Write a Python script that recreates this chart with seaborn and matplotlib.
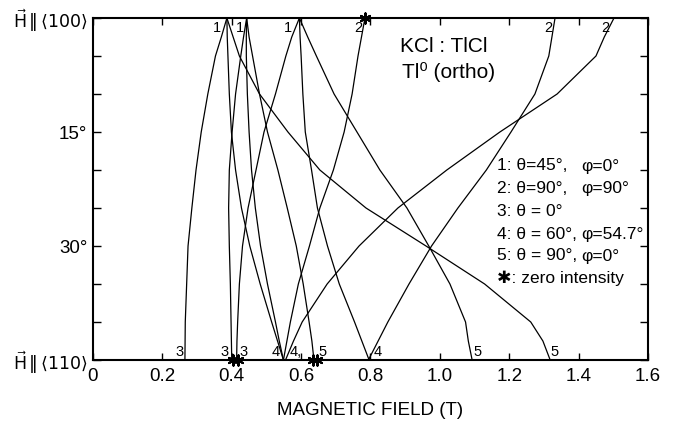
import numpy as np
import pandas as pd
import matplotlib
matplotlib.use("Agg")
import matplotlib.pyplot as plt
import seaborn as sns

# ---------------- data ----------------
ANGLES = [0, 2.5, 5, 10, 15, 20, 25, 30, 35, 40, 42.5, 45]   # degrees from <100>

c1 = [0.386, 0.370, 0.353, 0.331, 0.312, 0.297, 0.285, 0.274, 0.270, 0.266, 0.2655, 0.265]
c2 = [0.386, 0.387, 0.389, 0.393, 0.399, 0.411, 0.428, 0.452, 0.482, 0.515, 0.532, 0.549]
c3 = [0.386, 0.404, 0.422, 0.480, 0.562, 0.654, 0.787, 0.960, 1.129, 1.262, 1.297, 1.318]
c4 = [0.443, 0.434, 0.426, 0.411, 0.401, 0.393, 0.391, 0.393, 0.396, 0.398, 0.399, 0.400]
c5 = [0.443, 0.442, 0.442, 0.445, 0.450, 0.457, 0.468, 0.483, 0.503, 0.526, 0.537, 0.549]
c6 = [0.443, 0.450, 0.460, 0.480, 0.503, 0.533, 0.560, 0.586, 0.606, 0.623, 0.631, 0.637]
c7 = [0.595, 0.573, 0.556, 0.526, 0.493, 0.470, 0.447, 0.431, 0.422, 0.417, 0.415, 0.414]
c8 = [0.595, 0.597, 0.600, 0.605, 0.612, 0.630, 0.647, 0.676, 0.710, 0.754, 0.775, 0.796]
c9 = [0.595, 0.619, 0.644, 0.695, 0.761, 0.827, 0.905, 0.968, 1.029, 1.074, 1.082, 1.093]
c10 = [0.784, 0.774, 0.764, 0.747, 0.724, 0.693, 0.654, 0.624, 0.592, 0.569, 0.559, 0.549]
c11 = [1.332, 1.323, 1.314, 1.274, 1.205, 1.134, 1.052, 0.976, 0.911, 0.850, 0.822, 0.794]
c12 = [1.502, 1.474, 1.450, 1.338, 1.173, 1.020, 0.879, 0.767, 0.675, 0.603, 0.578, 0.555]

CURVES = [c1, c2, c3, c4, c5, c6, c7, c8, c9, c10, c11, c12]

# labels at the <100> end (curve index, text) and at the <110> end
TOP_LABELS = [(0, "1"), (3, "1"), (6, "1"), (9, "2"), (10, "2"), (11, "2")]
BOTTOM_LABELS = [(0, "3"), (3, "3"), (6, "3"), (1, "4"), (11, "4,"), (5, "5"),
                 (7, "4"), (8, "5"), (2, "5")]

# zero-intensity positions
STAR_FIELD = [0.784, 0.404, 0.417, 0.633, 0.645]
STAR_ANGLE = [0, 45, 45, 45, 45]

X_TICKS = [0, 0.2, 0.4, 0.6, 0.8, 1.0, 1.2, 1.4, 1.6]
X_TICKLABELS = ["0", "0.2", "0.4", "0.6", "0.8", "1.0", "1.2", "1.4", "1.6"]
Y_TICKS = [0, 15, 30, 45]
Y_TICKLABELS = [r"$\vec{\mathrm{H}}\,\Vert\,\langle100\rangle$", "15°", "30°",
                r"$\vec{\mathrm{H}}\,\Vert\,\langle110\rangle$"]

LEGEND_LEFT = ["1: θ=45°,", "2: θ=90°,", "3: θ = 0°", "4: θ = 60°,", "5: θ = 90°,", "✱: zero intensity"]
LEGEND_RIGHT = ["φ=0°", "φ=90°", "", "φ=54.7°", "φ=0°", ""]

# ---------------- style ----------------
sns.set_style("ticks")
FONTS = ["Liberation Sans", "DejaVu Sans"]
plt.rcParams["font.family"] = FONTS
plt.rcParams["mathtext.fontset"] = "dejavusans"
for k in ["text.color", "axes.labelcolor", "xtick.color", "ytick.color", "axes.edgecolor"]:
    plt.rcParams[k] = "black"

W, H = 673, 423
fig = plt.figure(figsize=(W / 100, H / 100), dpi=100)
ax = fig.add_axes([93 / W, 1 - 360 / H, (648 - 93) / W, (360 - 18) / H])

rows = []
for i, c in enumerate(CURVES):
    for a, b in zip(ANGLES, c):
        rows.append({"curve": i, "field": b, "angle": a})
df = pd.DataFrame(rows)

sns.lineplot(data=df, x="field", y="angle", units="curve", estimator=None,
             sort=False, color="black", linewidth=0.9, ax=ax, legend=False)

sns.scatterplot(x=STAR_FIELD, y=STAR_ANGLE, marker=(6, 2, 0), s=55, color="black",
                linewidth=1.5, ax=ax, clip_on=False, zorder=5)

ax.set_xlim(0, 1.6)
ax.set_ylim(45, 0)

ax.set_xticks(X_TICKS)
ax.set_xticklabels(X_TICKLABELS, fontsize=13.5)
ax.set_yticks(Y_TICKS)
ax.set_yticklabels(Y_TICKLABELS, fontsize=13.5)
for lab in ax.get_yticklabels():
    if "Vert" in lab.get_text():
        lab.set_fontsize(12.5)
ax.set_yticks([5, 10, 20, 25, 35, 40], minor=True)
ax.tick_params(axis="both", which="both", direction="in", top=True, right=True,
               width=1.0, color="black")
ax.tick_params(axis="x", which="major", length=5, pad=6)
ax.tick_params(axis="y", which="major", length=6, pad=4)
ax.tick_params(axis="y", which="minor", length=6)
for s in ax.spines.values():
    s.set_linewidth(1.5)
    s.set_color("black")

ax.set_xlabel("MAGNETIC FIELD (T)", fontsize=13.5, labelpad=12)
ax.set_ylabel("")

# curve labels
top_off = {0: -4, 3: -2, 6: -5, 9: -2, 10: -2, 11: -3}
for idx, t in TOP_LABELS:
    ax.annotate(t, (CURVES[idx][0], 0), xytext=(top_off[idx], -2), textcoords="offset points",
                ha="right", va="top", fontsize=10.5)
bot_style = {0: ("right", -1), 3: ("right", -2), 6: ("left", 2), 1: ("right", -3),
             11: ("left", 3), 5: ("left", 3), 7: ("left", 3), 8: ("left", 1), 2: ("left", 0)}
for idx, t in BOTTOM_LABELS:
    ha, dx = bot_style[idx]
    ax.annotate(t, (CURVES[idx][-1], 45), xytext=(dx, 1), textcoords="offset points",
                ha=ha, va="bottom", fontsize=10.5)

# titles and legend text
fig.text(400 / W, 1 - 46 / H, "KCl : TlCl", fontsize=15, va="center", ha="left")
fig.text(402 / W, 1 - 72 / H, "Tl⁰ (ortho)", fontsize=15, va="center", ha="left")
ys = [166, 188, 211, 234, 256, 278]
for y, l, r in zip(ys, LEGEND_LEFT, LEGEND_RIGHT):
    fig.text(497 / W, 1 - y / H, l, fontsize=12.5, va="center", ha="left")
    if r:
        fig.text(581 / W, 1 - y / H, r, fontsize=12.5, va="center", ha="left")

fig.savefig("out.png", dpi=100)
